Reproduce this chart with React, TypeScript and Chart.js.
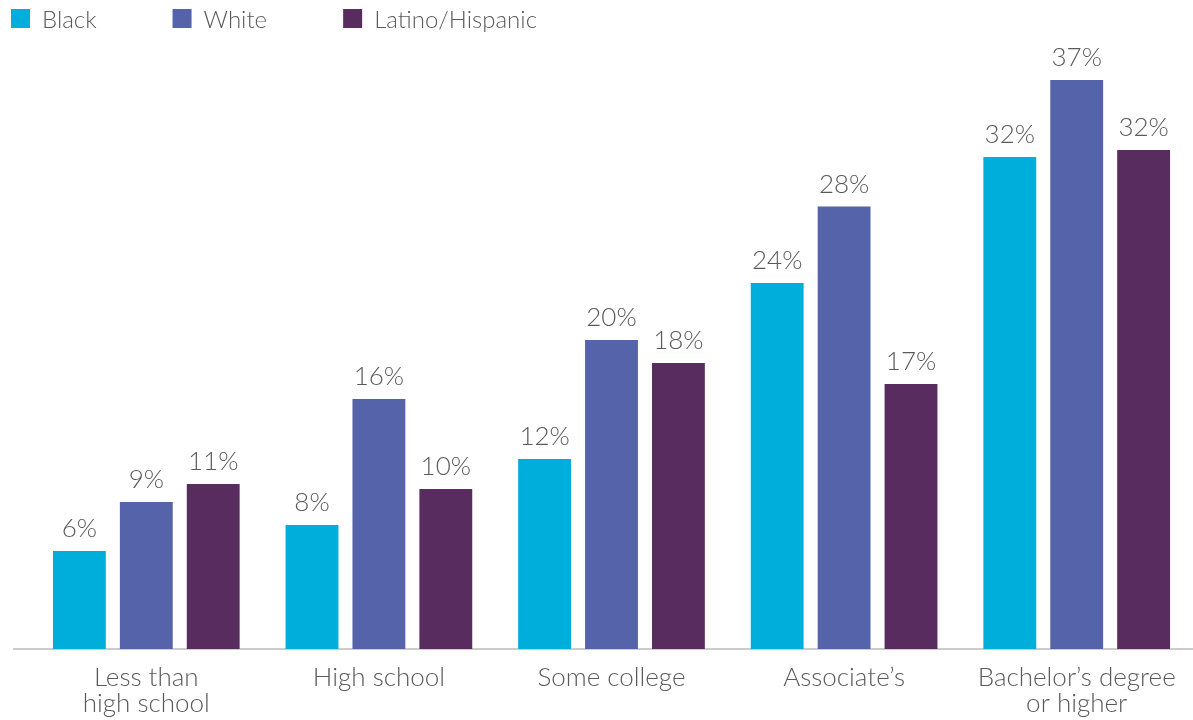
import React, { useEffect, useRef } from "react";
import { Chart, registerables } from "chart.js";

Chart.register(...registerables);

const categories: (string | string[])[] = [
  ["Less than", "high school"],
  "High school",
  "Some college",
  "Associate’s",
  ["Bachelor’s degree", "or higher"],
];
const seriesNames = ["Black", "White", "Latino/Hispanic"];
const blackValues = [6.3, 7.97, 12.22, 23.54, 31.64];
const whiteValues = [9.45, 16.08, 19.87, 28.45, 36.59];
const latinoValues = [10.61, 10.29, 18.39, 17.04, 32.09];
const seriesColors = ["#00AEDB", "#5463AA", "#582C5E"];

const FONT = "Lato, 'Open Sans', sans-serif";
const TEXT = "#5a5a5a";

const legendPlugin = {
  id: "customLegend",
  afterDraw(chart: any) {
    const ctx = chart.ctx;
    ctx.save();
    ctx.font = `300 24px ${FONT}`;
    ctx.textBaseline = "alphabetic";
    ctx.textAlign = "left";
    let x = 11;
    chart.data.datasets.forEach((ds: any) => {
      ctx.fillStyle = ds.backgroundColor;
      ctx.fillRect(x, 9, 19, 19);
      ctx.fillStyle = TEXT;
      ctx.fillText(ds.label, x + 31, 28);
      x += 31 + ctx.measureText(ds.label).width + 76;
    });
    ctx.restore();
  },
};

const baselinePlugin = {
  id: "baseline",
  beforeDatasetsDraw(chart: any) {
    const { ctx, chartArea } = chart;
    ctx.save();
    ctx.fillStyle = "#cccccc";
    ctx.fillRect(chartArea.left - 17, chartArea.bottom - 1, chartArea.right - chartArea.left + 17, 2);
    ctx.restore();
  },
};

const valueLabelPlugin = {
  id: "valueLabels",
  afterDatasetsDraw(chart: any) {
    const ctx = chart.ctx;
    ctx.save();
    ctx.font = `300 26px ${FONT}`;
    ctx.fillStyle = TEXT;
    ctx.textAlign = "center";
    ctx.textBaseline = "alphabetic";
    chart.data.datasets.forEach((ds: any, di: number) => {
      const meta = chart.getDatasetMeta(di);
      meta.data.forEach((el: any, i: number) => {
        const v = ds.data[i] as number;
        ctx.fillText(`${Math.round(v)}%`, el.x, el.y - 14);
      });
    });
    ctx.restore();
  },
};

export default function App() {
  const canvasRef = useRef<HTMLCanvasElement | null>(null);

  useEffect(() => {
    if (!canvasRef.current) return;
    const seriesValues = [blackValues, whiteValues, latinoValues];
    const chart = new Chart(canvasRef.current, {
      type: "bar",
      data: {
        labels: categories,
        datasets: seriesNames.map((name, i) => ({
          label: name,
          data: seriesValues[i],
          backgroundColor: seriesColors[i],
          borderWidth: 0,
          barPercentage: 0.79,
          categoryPercentage: 0.863,
        })),
      },
      options: {
        animation: false,
        responsive: true,
        maintainAspectRatio: false,
        devicePixelRatio: 1,
        layout: { padding: { left: 30, right: 0, top: 27, bottom: 0 } },
        plugins: {
          legend: { display: false },
          tooltip: { enabled: false },
        },
        scales: {
          x: {
            grid: { display: false, drawTicks: false },
            border: { display: false },
            ticks: {
              color: TEXT,
              font: { family: FONT, size: 26, weight: 300 as any, lineHeight: 1.0 },
              padding: 16,
              maxRotation: 0,
              autoSkip: false,
            },
            afterFit: (scale: any) => {
              scale.height = 71;
            },
          },
          y: { display: false, min: 0, max: 40 },
        },
      },
      plugins: [baselinePlugin, valueLabelPlugin, legendPlugin],
    });
    return () => chart.destroy();
  }, []);

  return (
    <div style={{ position: "absolute", left: 0, top: 0, width: 1193, height: 720 }}>
      <canvas ref={canvasRef} />
    </div>
  );
}
